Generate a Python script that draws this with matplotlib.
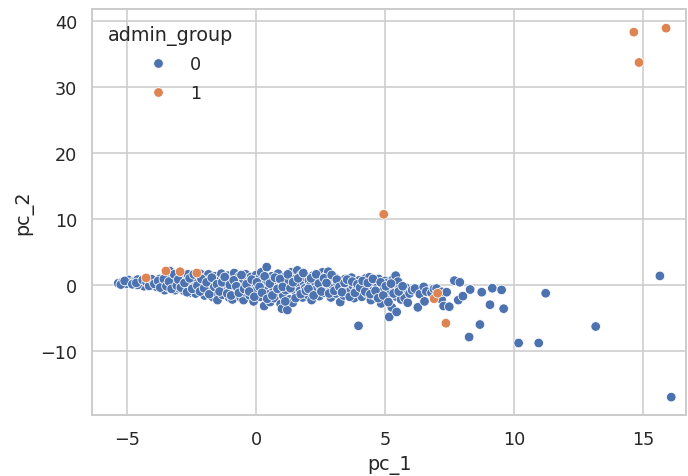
import numpy as np
import pandas as pd
import matplotlib
matplotlib.use("Agg")
import matplotlib.pyplot as plt
import seaborn as sns

pc1_g0 = [
    -5.35, -5.2, -5.05, -4.95, -4.85, -4.7, -4.6, -4.5, -4.45, -4.3, -4.2, -4.1, -4.0, -3.95, -4.35, -4.6,
    -3.9, -3.85, -3.75, -3.7, -3.65, -3.6, -3.55, -3.5, -3.45, -3.4, -3.35, -3.3, -3.25, -3.2, -3.15, -3.1, -3.05, -3.0,
    -2.95, -2.9, -2.85, -2.8, -2.75, -2.7, -2.65, -2.6, -2.55, -2.5, -2.45, -2.4, -2.36, -2.35, -2.3, -2.25, -2.2, -2.17, -2.1, -2.05, -2.0, -2.0,
    -1.95, -1.9, -1.85, -1.8, -1.75, -1.7, -1.65, -1.6, -1.55, -1.5, -1.45, -1.4, -1.35, -1.3, -1.25, -1.2, -1.15, -1.1, -1.05, -1.0, -1.0,
    -0.95, -0.92, -0.9, -0.85, -0.8, -0.75, -0.7, -0.65, -0.6, -0.55, -0.5, -0.49, -0.45, -0.4, -0.35, -0.3, -0.25, -0.2, -0.15, -0.1, -0.05, 0.0, 0.0,
    0.05, 0.1, 0.15, 0.2, 0.25, 0.31, 0.35, 0.41, 0.45, 0.5, 0.54, 0.6, 0.65, 0.7, 0.75, 0.8, 0.85, 0.9, 0.95, 1.0, 1.0,
    1.05, 1.1, 1.15, 1.21, 1.25, 1.3, 1.35, 1.42, 1.45, 1.5, 1.55, 1.6, 1.65, 1.7, 1.75, 1.8, 1.85, 1.9, 1.95, 2.0,
    2.05, 2.1, 2.15, 2.2, 2.25, 2.3, 2.35, 2.4, 2.45, 2.5, 2.57, 2.6, 2.65, 2.7, 2.75, 2.8, 2.85, 2.9, 2.95, 3.0,
    3.05, 3.1, 3.15, 3.2, 3.26, 3.3, 3.35, 3.4, 3.45, 3.5, 3.58, 3.6, 3.65, 3.7, 3.75, 3.8, 3.85, 3.9, 3.97, 4.0,
    4.05, 4.1, 4.15, 4.2, 4.25, 4.3, 4.39, 4.4, 4.45, 4.5, 4.55, 4.6, 4.65, 4.7, 4.75, 4.8, 4.85, 4.9, 4.95, 5.0,
    5.05, 5.1, 5.16, 5.2, 5.26, 5.3, 5.35, 5.41, 5.45, 5.45, 5.5, 5.55, 5.62, 5.7, 5.76, 5.8, 5.88, 5.95, 6.05, 6.16,
    6.27, 6.35, 6.5, 6.53, 6.6, 6.8, 6.9,
    7.0, 7.19, 7.2, 7.27, 7.39, 7.49, 7.69, 7.84, 7.9, 8.02, 8.26, 8.3, 8.68, 8.75, 9.07, 9.16, 9.52, 9.6,
    10.18, 10.96, 11.23, 13.17, 15.66, 16.1,
    # second pass over the dense band
    -5.25, -5.1, -4.8, -4.65, -4.4, -4.25, -4.15, -4.05,
    -3.95, -3.8, -3.72, -3.58, -3.48, -3.38, -3.28, -3.18, -3.08, -3.02,
    -2.92, -2.78, -2.68, -2.58, -2.48, -2.42, -2.28, -2.18, -2.12, -2.02,
    -1.92, -1.82, -1.72, -1.62, -1.52, -1.42, -1.32, -1.22, -1.12, -1.02,
    -0.97, -0.87, -0.77, -0.67, -0.57, -0.47, -0.37, -0.27, -0.17, -0.07,
    0.03, 0.13, 0.23, 0.33, 0.43, 0.53, 0.63, 0.73, 0.83, 0.93,
    1.03, 1.13, 1.23, 1.33, 1.43, 1.53, 1.63, 1.73, 1.83, 1.93,
    2.03, 2.13, 2.23, 2.33, 2.43, 2.53, 2.63, 2.73, 2.83, 2.93,
    3.03, 3.13, 3.23, 3.33, 3.43, 3.53, 3.63, 3.73, 3.83, 3.93,
    4.03, 4.13, 4.23, 4.33, 4.43, 4.53, 4.63, 4.73, 4.83, 4.93,
    5.03, 5.13, 5.23, 5.33, 5.53, 5.68,
]
pc2_g0 = [
    0.25, 0.4, 0.15, 0.75, 0.35, 0.55, 0.8, 0.2, 0.5, 0.1, 0.65, 0.3, -0.1, 0.7, -0.2, 0.0,
    0.4, -0.3, 0.9, 0.1, -0.6, 0.5, -0.8, 1.2, 0.2, -0.4, 2.1, 1.3, 0.6, -0.2, -0.8, 1.0, 0.3, -0.5,
    1.5, 0.0, 1.2, -0.9, -0.55, 0.6, 1.6, -1.2, 0.3, 0.2, 1.0, -0.3, 1.1, -1.3, 0.7, -0.7, 1.4, 1.7, -0.3, 0.5, -1.6, 1.1,
    0.0, -1.0, 1.6, 0.8, -0.5, -1.8, 0.3, 1.3, -1.2, -2.3, 0.6, -0.2, 1.7, -1.5, 0.9, -0.7, 0.2, 1.4, -1.9, 0.5, -0.9,
    1.0, -2.2, -0.3, 1.8, -1.4, 0.4, -0.8, 1.3, -1.9, 0.0, 0.9, -2.3, -1.1, 1.6, -0.5, 0.6, -1.6, 1.2, -0.2, -2.5, 0.3, -1.2, 1.5,
    -0.6, 0.9, -1.8, 1.9, 0.1, -3.2, -0.9, 2.7, 0.5, -1.4, -2.6, 1.3, -0.3, -2.0, 0.8, -1.0, 1.7, -0.4, -2.9, -3.6, 0.3,
    -1.6, 1.2, -0.8, -3.8, 0.6, -2.2, 1.9, -2.7, -0.2, 0.9, -1.3, 2.2, 0.1, -0.9, 1.5, -1.9, 0.4, -0.5, 1.1, -1.5,
    0.7, -0.1, -2.3, 1.4, -1.0, 0.3, -0.6, 1.0, -1.7, -0.3, 1.9, 0.5, -1.2, 1.3, -0.7, 2.0, 0.0, -1.9, 0.8, -0.4,
    1.1, -1.3, 0.3, -0.8, -2.6, 0.6, -0.2, -1.6, 0.9, -0.5, -1.3, 0.2, -0.9, 1.1, -0.1, -2.0, 0.4, -0.7, -6.2, 0.7,
    -1.1, -1.8, 0.1, -0.5, 1.0, -1.3, 1.15, -0.2, -2.3, 0.5, -0.8, -1.6, 0.2, -0.4, 0.9, -1.2, -2.8, 0.0, -0.7, 0.6,
    -1.5, 0.3, -4.85, -0.9, -3.4, 0.8, -0.3, 1.4, -1.8, -4.1, 0.5, -0.6, -2.2, -1.1, -2.0, -0.4, -2.7, -1.3, -0.8, -0.55,
    -3.4, -1.4, -0.3, -2.5, -1.0, -1.2, -0.6,
    -0.55, -2.2, -1.05, -3.2, -1.1, -3.3, 0.65, -2.3, 0.4, -1.7, -7.9, -0.7, -6.0, -1.1, -3.0, -0.5, -0.76, -3.6,
    -8.8, -8.8, -1.26, -6.3, 1.36, -17.0,
    # second pass over the dense band
    0.05, 0.6, 0.1, 0.3, 0.75, 0.4, -0.15, 0.85,
    0.15, 0.6, -0.4, 0.9, -0.2, 0.5, -0.6, 1.6, -0.1, 0.8,
    -0.4, 0.3, -1.1, 1.0, -0.6, 1.6, -0.1, -1.0, 0.9, -0.5,
    0.4, -1.4, 1.1, -0.3, 0.1, -1.0, 0.4, 1.2, -1.3, 0.0,
    -1.6, 0.7, -0.2, -1.2, 1.5, -0.6, 0.1, -1.0, 0.8, -1.8,
    0.4, -0.3, -1.2, 1.3, -2.1, 0.2, -1.6, 1.1, -0.6, 0.9,
    -0.3, -2.5, 1.6, -0.5, 0.4, -2.0, 1.0, -1.4, 1.8, -0.9,
    -0.6, 1.0, -1.6, 1.6, 0.2, -1.0, 1.0, 0.3, -1.3, 1.5,
    -0.9, 0.8, -0.3, -1.1, 0.3, 0.8, -1.8, 0.5, -1.2, 0.1,
    -0.4, 0.6, -1.0, 0.3, -1.4, 0.9, -0.9, -2.0, 0.4, -1.6,
    -0.2, -2.6, 0.2, -1.3, -1.0, -0.2,
]

# orange points (admin_group 1)
pc1_g1 = [-4.27, -3.5, -2.95, -2.3, 4.95, 6.9, 7.04, 7.36, 14.65, 14.85, 15.9]
pc2_g1 = [1.06, 2.1, 2.0, 1.8, 10.7, -2.1, -1.26, -5.8, 38.3, 33.7, 38.9]

sns.set_theme(style="whitegrid")

df = pd.concat([
    pd.DataFrame({"pc_1": pc1_g0, "pc_2": pc2_g0, "admin_group": 0}),
    pd.DataFrame({"pc_1": pc1_g1, "pc_2": pc2_g1, "admin_group": 1}),
], ignore_index=True)

DPI = 115
fig, ax = plt.subplots(figsize=(688 / DPI, 477 / DPI), dpi=DPI)
fig.subplots_adjust(left=0.134, right=0.997, top=0.979, bottom=0.128)

sns.scatterplot(data=df, x="pc_1", y="pc_2", hue="admin_group",
                palette=["#4C72B0", "#DD8452"], ax=ax)
sns.move_legend(ax, "upper left", frameon=False, labelspacing=0.6)

ax.set_xlim(-6.36, 16.67)
ax.set_ylim(-19.7, 41.8)
ax.set_xticks([-5, 0, 5, 10, 15])
ax.set_yticks([-10, 0, 10, 20, 30, 40])

fig.savefig("out.png", dpi=DPI)
